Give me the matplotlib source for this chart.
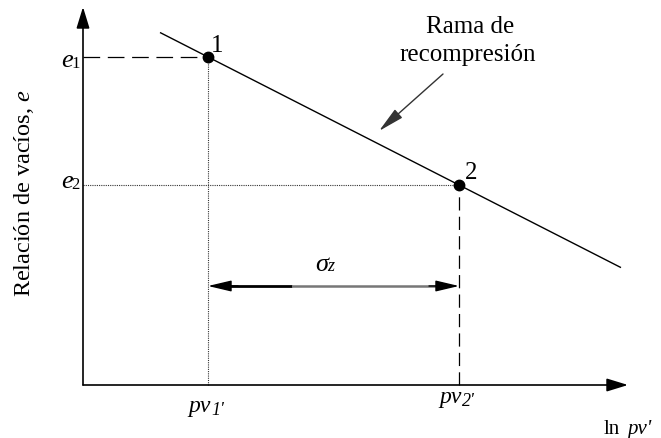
import matplotlib
matplotlib.use("Agg")
import matplotlib.pyplot as plt

plt.rcParams["font.family"] = ["Liberation Serif", "DejaVu Serif"]
plt.rcParams["mathtext.fontset"] = "custom"
plt.rcParams["mathtext.rm"] = "Liberation Serif"
plt.rcParams["mathtext.it"] = "Liberation Serif:italic"
plt.rcParams["lines.scale_dashes"] = False

# Schematic e - ln(pv') diagram (arbitrary units, origin at the axes corner)
ln_pv = [125, 376]            # ln pv1', ln pv2'
e_vals = [328, 200]           # e1, e2
point_labels = ["1", "2"]
index_labels = ["1", "2"]
rama_x = [77, 538]            # recompression branch ends
rama_e = [352.5, 117.4]
x_axis_end = 545
y_axis_end = 378
sigma_level = 99

fig = plt.figure(figsize=(6.61, 4.39), dpi=100)
ax = fig.add_axes([0, 0, 1, 1])
ax.set_xlim(-83, 578)
ax.set_ylim(-53, 386)
ax.axis("off")

axis_arrow = dict(arrowstyle="-|>,head_length=0.65,head_width=0.2",
                  mutation_scale=20, lw=1.2, color="black",
                  shrinkA=0, shrinkB=0)
# Axes with arrow heads
ax.annotate("", xy=(0, y_axis_end), xytext=(0, 0), arrowprops=axis_arrow)
ax.annotate("", xy=(x_axis_end, 0), xytext=(0, 0), arrowprops=axis_arrow)

# Recompression branch
ax.plot(rama_x, rama_e, color="black", lw=1.0, solid_capstyle="butt")

# Guide lines for point 1 (dashed to e axis, dotted down to ln axis)
ax.plot([0, ln_pv[0]], [e_vals[0], e_vals[0]], color="black", lw=0.9,
        linestyle=(0, (12, 5.5)))
ax.plot([ln_pv[0], ln_pv[0]], [0, e_vals[0]], color="#333333", lw=0.8,
        linestyle=(0, (0.8, 0.8)))
# Guide lines for point 2 (dotted to e axis, dashed down to ln axis)
ax.plot([0, ln_pv[1]], [e_vals[1], e_vals[1]], color="#333333", lw=0.8,
        linestyle=(0, (0.8, 0.8)))
ax.plot([ln_pv[1], ln_pv[1]], [0, e_vals[1]], color="black", lw=0.9,
        linestyle=(0, (9.5, 4.5)))

# Points
ax.plot(ln_pv, e_vals, "o", color="black", markersize=7.5, zorder=5)
ax.text(ln_pv[0] + 9, e_vals[0] + 6, point_labels[0], fontsize=18,
        ha="center", va="baseline")
ax.text(ln_pv[1] + 12, e_vals[1] + 7, point_labels[1], fontsize=18,
        ha="center", va="baseline")

# e axis labels: italic e with a small index
for e, idx, dy in zip(e_vals, index_labels, [-9, -2]):
    ax.text(-10, e + dy, "e", fontsize=19, style="italic",
            ha="right", va="baseline")
    ax.text(-3, e + dy - 1, idx, fontsize=12, ha="right", va="baseline")

# ln pv' axis labels: italic pv with a small index and prime
for x, idx, base in zip(ln_pv, index_labels, [-26, -17]):
    ax.text(x - 20, base, "pv", fontsize=17, style="italic",
            ha="left", va="baseline")
    ax.text(x + 3, base - 3, idx + "'", fontsize=13, style="italic",
            ha="left", va="baseline")

ax.text(521, -48, "ln", fontsize=15, ha="left", va="baseline")
ax.text(544, -48, "pv'", fontsize=15, style="italic", ha="left", va="baseline")

# Y axis title
ax.text(-59, 193, r"Relación de vacíos, $e$", fontsize=17.5, rotation=90,
        ha="center", va="center")

# sigma_z span between ln pv1' and ln pv2'
mid = 209
ax.plot([ln_pv[0] + 10, mid], [sigma_level, sigma_level], color="black",
        lw=2.0, solid_capstyle="butt")
ax.plot([mid, ln_pv[1] - 10], [sigma_level, sigma_level], color="#777777",
        lw=1.8, solid_capstyle="butt")
span_head = dict(arrowstyle="-|>,head_length=0.72,head_width=0.17",
                 mutation_scale=20, lw=1.0, color="black",
                 shrinkA=0, shrinkB=0)
ax.annotate("", xy=(ln_pv[0], sigma_level), xytext=(ln_pv[0] + 30, sigma_level),
            arrowprops=span_head)
ax.annotate("", xy=(ln_pv[1], sigma_level), xytext=(ln_pv[1] - 30, sigma_level),
            arrowprops=span_head)
ax.text(245, 115, "σ", fontsize=19, style="italic", ha="right", va="baseline")
ax.text(244, 115, "z", fontsize=13, style="italic", ha="left", va="baseline")

# Branch annotation
ax.text(387, 353, "Rama de", fontsize=18, ha="center", va="baseline")
ax.text(385, 325, "recompresión", fontsize=18, ha="center", va="baseline")
ax.annotate("", xy=(296, 254), xytext=(360, 311),
            arrowprops=dict(arrowstyle="-|>,head_length=0.8,head_width=0.17",
                            mutation_scale=20, lw=1.0, color="#333333",
                            shrinkA=0, shrinkB=0))

fig.savefig("out.png", dpi=100)
